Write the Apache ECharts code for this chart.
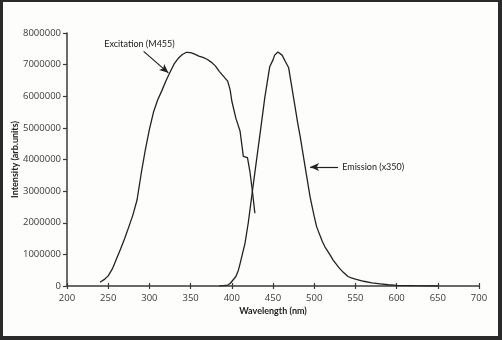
<!DOCTYPE html>
<html>
<head>
<meta charset="utf-8">
<script src="https://cdn.jsdelivr.net/npm/echarts@6/dist/echarts.min.js"></script>
<style>
html,body{margin:0;padding:0;background:#fdfdfb;}
#chart{position:absolute;left:0;top:0;width:502px;height:340px;}
#frame{position:absolute;left:0;top:0;width:502px;height:340px;box-sizing:border-box;
border-style:solid;border-color:#2a2a2a;border-width:2px 4px 4px 3px;pointer-events:none;}
</style>
</head>
<body>
<div id="chart"></div>
<div id="frame"></div>
<script>
// Excitation (M455): wavelength (nm), intensity
const excWave = [240,245,250,255,260,265,270,275,280,285,290,295,300,305,310,315,320,325,330,335,340,345,350,355,360,365,370,375,380,385,390,395,398,400,405,410,414,419,422,425,428];
const excVal  = [120000,200000,320000,540000,850000,1170000,1500000,1870000,2250000,2720000,3550000,4300000,4950000,5500000,5880000,6170000,6480000,6760000,7020000,7200000,7320000,7390000,7380000,7330000,7270000,7230000,7170000,7080000,6960000,6780000,6630000,6480000,6200000,5850000,5300000,4900000,4100000,4060000,3620000,3000000,2300000];
// Emission (x350)
const emiWave = [385,390,395,398,400,405,408,410,416,420,425,430,435,440,446,450,452,456,458,461,465,469,475,480,483,489,491,495,500,503,510,513,520,523,530,535,541,545,550,560,570,580,590,600,620,650];
const emiVal  = [0,10000,30000,80000,120000,300000,500000,700000,1350000,2000000,3000000,3980000,4950000,5950000,6930000,7150000,7300000,7400000,7420000,7300000,7100000,6900000,5950000,5150000,4720000,3770000,3450000,2820000,2200000,1870000,1400000,1240000,950000,820000,580000,440000,300000,260000,220000,150000,100000,70000,40000,20000,10000,0];
// Axis ticks
const xTicks = {min:200, max:700, step:50};
const yTicks = {min:0, max:8000000, step:1000000};
const xTitle = 'Wavelength (nm)';
const yTitle = 'Intensity (arb.units)';
const excLabel = 'Excitation (M455)';
const emiLabel = 'Emission (x350)';

const excData = excWave.map((w,i)=>[w, excVal[i]]);
const emiData = emiWave.map((w,i)=>[w, emiVal[i]]);

const font = 'Lato, "Open Sans", sans-serif';
const tickFont = '"Open Sans", sans-serif';
const axisColor = '#3a3a3a';
const chart = echarts.init(document.getElementById('chart'));
chart.setOption({
  animation:false,
  backgroundColor:'transparent',
  grid:{left:67, right:23, top:33, bottom:54, containLabel:false, outerBoundsMode:'none'},
  xAxis:[{
    type:'value', min:xTicks.min, max:xTicks.max, interval:xTicks.step,
    name:xTitle, nameLocation:'middle', nameGap:21, nameMoveOverlap:false,
    nameTextStyle:{fontFamily:font, fontSize:9, fontWeight:'bold', color:'#222'},
    axisLine:{show:true, lineStyle:{color:axisColor, width:1.5}},
    axisTick:{show:true, inside:false, length:3, lineStyle:{color:axisColor, width:1.2}},
    axisLabel:{fontFamily:tickFont, fontSize:9.5, color:'#3a3a3a', margin:7},
    splitLine:{show:false}
  },{
    type:'value', min:xTicks.min, max:xTicks.max, interval:xTicks.step, position:'bottom',
    axisLine:{show:false},
    axisTick:{show:true, inside:true, length:3, lineStyle:{color:axisColor, width:1.2}},
    axisLabel:{show:false}, splitLine:{show:false}
  }],
  yAxis:{
    type:'value', min:yTicks.min, max:yTicks.max, interval:yTicks.step,
    name:yTitle, nameLocation:'middle', nameGap:47, nameRotate:90, nameMoveOverlap:false,
    nameTextStyle:{fontFamily:font, fontSize:9, fontWeight:'bold', color:'#222'},
    axisLine:{show:true, lineStyle:{color:axisColor, width:1.5}},
    axisTick:{show:true, inside:false, length:4, lineStyle:{color:axisColor, width:1.2}},
    axisLabel:{fontFamily:tickFont, fontSize:9.5, color:'#3a3a3a', margin:6, formatter:(v)=>String(v)},
    splitLine:{show:false}
  },
  series:[{
    type:'line', name:excLabel, data:excData, showSymbol:false, symbol:'none',
    lineStyle:{color:'#222', width:1.3},
    markLine:{
      silent:true, symbol:['none','arrow'], symbolSize:[6,9],
      lineStyle:{color:'#222', width:1.2, type:'solid'},
      label:{show:false},
      data:[[{coord:[293,7420000]},{coord:[323,6740000]}]]
    },
    markPoint:{
      symbol:'circle', symbolSize:0,
      label:{show:true, formatter:excLabel, fontFamily:font, fontSize:9, color:'#1a1a1a', position:'inside'},
      data:[{coord:[288,7660000]}]
    }
  },{
    type:'line', name:emiLabel, data:emiData, showSymbol:false, symbol:'none',
    lineStyle:{color:'#222', width:1.3},
    markLine:{
      silent:true, symbol:['none','arrow'], symbolSize:[6,9],
      lineStyle:{color:'#222', width:1.2, type:'solid'},
      label:{show:false},
      data:[[{coord:[529,3760000]},{coord:[495,3760000]}]]
    },
    markPoint:{
      symbol:'circle', symbolSize:0,
      label:{show:true, formatter:emiLabel, fontFamily:font, fontSize:9, color:'#1a1a1a', position:'right', distance:0},
      data:[{coord:[534,3760000]}]
    }
  }]
});
</script>
</body>
</html>
